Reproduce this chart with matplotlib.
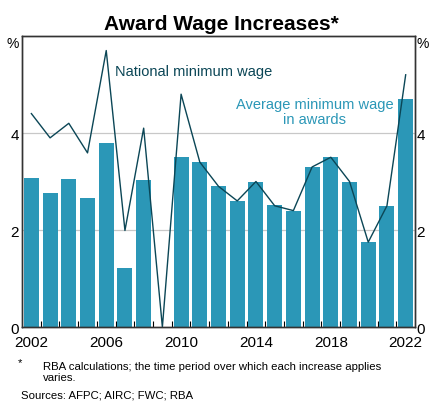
import numpy as np
import matplotlib.pyplot as plt

plt.rcParams['font.family'] = ['Liberation Sans', 'DejaVu Sans']

# data (per cent)
years = list(range(2002, 2023))
award_avg = [3.07, 2.77, 3.05, 2.65, 3.80, 1.22, 3.03, 0.0, 3.50, 3.41, 2.91,
             2.60, 3.00, 2.51, 2.40, 3.30, 3.50, 3.00, 1.75, 2.50, 4.71]
nmw = [4.40, 3.90, 4.20, 3.59, 5.70, 1.99, 4.10, 0.0, 4.80, 3.40, 2.90,
       2.60, 3.00, 2.50, 2.40, 3.30, 3.50, 3.00, 1.75, 2.50, 5.20]
xlabels = ['2002', '2006', '2010', '2014', '2018', '2022']
ylabels = ['0', '2', '4', '%']

bar_col = '#2b97b7'
line_col = '#0b4656'

fig = plt.figure(figsize=(4.30, 4.02), dpi=100)
ax = fig.add_axes([0.0512, 0.184, 0.914, 0.724])

ax.bar(years, award_avg, width=0.8, color=bar_col, zorder=2)
ax.plot(years, nmw, color=line_col, lw=1.0, zorder=3)

ax.set_xlim(2001.5, 2022.5)
ax.set_ylim(0, 6)

# grid
for g in [2, 4]:
    ax.axhline(g, color='#c8c8c8', lw=0.9, zorder=1)

# x ticks: labels every 4 years, marks between years
ax.set_xticks([int(s) for s in xlabels])
ax.set_xticklabels(xlabels, fontsize=11)
ax.set_xticks(np.arange(2002.5, 2022.5, 1), minor=True)
ax.tick_params(axis='x', which='major', length=0, pad=6)
ax.tick_params(axis='x', which='minor', length=4, width=0.8, direction='in')

# y ticks both sides
ax.set_yticks([0, 2, 4, 6])
ax.set_yticklabels(ylabels, fontsize=11)
ax.tick_params(axis='y', length=0, pad=2)
ax2 = ax.twinx()
ax2.set_ylim(0, 6)
ax2.set_yticks([0, 2, 4, 6])
ax2.set_yticklabels(ylabels, fontsize=11)
ax2.tick_params(axis='y', length=0, pad=1)

for a in (ax, ax2):
    for s in a.spines.values():
        s.set_color('#333333')
        s.set_linewidth(1.0)

# % labels sit just under the top
for lab in ax.get_yticklabels() + ax2.get_yticklabels():
    if lab.get_text() == '%':
        lab.set_verticalalignment('top')
        lab.set_fontsize(10)

ax.text(2006.45, 5.28, 'National minimum wage', color=line_col, fontsize=10.5,
        ha='left', va='center')
ax.text(2017.15, 4.45, 'Average minimum wage\nin awards', color=bar_col,
        fontsize=10.5, ha='center', va='center', linespacing=1.1,
        zorder=4)

fig.text(0.514, 0.94, 'Award Wage Increases*', ha='center', va='center',
         fontsize=15, fontweight='bold')
fig.text(0.042, 0.097, '*', fontsize=8.2, ha='left', va='center')
fig.text(0.1, 0.073, 'RBA calculations; the time period over which each increase applies\nvaries.',
         fontsize=8.2, ha='left', va='center', linespacing=1.15)
fig.text(0.048, 0.017, 'Sources: AFPC; AIRC; FWC; RBA', fontsize=8.2,
         ha='left', va='center')

fig.savefig('out.png', dpi=100)
